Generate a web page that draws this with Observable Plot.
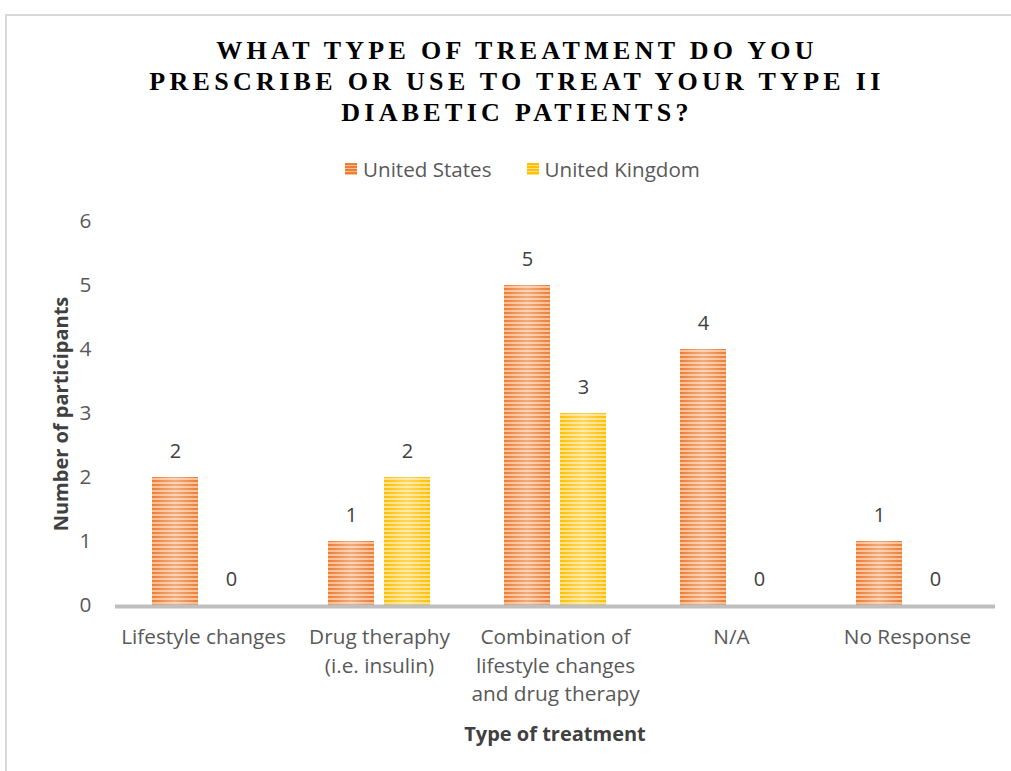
<!DOCTYPE html>
<html>
<head>
<meta charset="utf-8">
<script src="https://cdn.jsdelivr.net/npm/d3@7"></script>
<script src="https://cdn.jsdelivr.net/npm/@observablehq/plot@0.6"></script>
<style>
  html, body { margin: 0; padding: 0; background: #fff; overflow: hidden; }
  body { width: 1011px; height: 771px; position: relative; font-family: "Open Sans", "Noto Sans", sans-serif; }
  #frame { position: absolute; left: 5px; top: 14px; width: 1030px; height: 780px; border: 2px solid #d9d9d9; box-sizing: border-box; }
  #title { position: absolute; left: 0; top: 35px; width: 1034px; text-align: center;
    font-family: "Liberation Serif", serif; font-weight: bold; font-size: 26px; line-height: 31px;
    letter-spacing: 4.3px; color: #000; }
  #legend { position: absolute; top: 155px; left: 345px; display: flex; gap: 35px;
    font-size: 20.6px; color: #595959; }
  #legend span.item { display: inline-flex; align-items: center; gap: 6px; }
  #legend i { display: inline-block; width: 12px; height: 12px; }
  .axis-title { position: absolute; font-weight: bold; font-size: 20px; color: #404040; white-space: nowrap; }
  #ytitle { left: 60px; top: 414px; transform: translate(-50%, -50%) rotate(-90deg); }
  #xtitle { left: 555px; top: 733px; transform: translate(-50%, -50%); }
  #chart { position: absolute; left: 0; top: 0; }
</style>
</head>
<body>
<div id="frame"></div>
<div id="title"></div>
<div id="legend"></div>
<div id="chart"></div>
<div id="ytitle" class="axis-title">Number of participants</div>
<div id="xtitle" class="axis-title">Type of treatment</div>
<script>
const titleLines = [
  "WHAT TYPE OF TREATMENT DO YOU",
  "PRESCRIBE OR USE TO TREAT YOUR TYPE II",
  "DIABETIC PATIENTS?"
];
const treatments = [
  "Lifestyle changes",
  "Drug theraphy\n(i.e. insulin)",
  "Combination of\nlifestyle changes\nand drug therapy",
  "N/A",
  "No Response"
];
const countries = ["United States", "United Kingdom"];
const unitedStates = [2, 1, 5, 4, 1];
const unitedKingdom = [0, 2, 3, 0, 0];
const yTicks = [0, 1, 2, 3, 4, 5, 6];

// stripe fills for each series: [id, dark stripe, light stripe]
const fills = [
  ["stripe-us", "#ED7D31", "#F9BE95"],
  ["stripe-uk", "#FFC000", "#FFE083"]
];

const rows = treatments.flatMap((t, i) => [
  {treatment: t, country: countries[0], value: unitedStates[i]},
  {treatment: t, country: countries[1], value: unitedKingdom[i]}
]);

document.getElementById("title").innerHTML = titleLines.join("<br>");

const legend = document.getElementById("legend");
countries.forEach((c, i) => {
  const item = document.createElement("span");
  item.className = "item";
  const sw = document.createElement("i");
  sw.style.background = `repeating-linear-gradient(to bottom, ${fills[i][1]} 0 2px, ${fills[i][2]} 2px 3px)`;
  item.appendChild(sw);
  item.appendChild(document.createTextNode(c));
  legend.appendChild(item);
});

const chart = Plot.plot({
  width: 1011,
  height: 771,
  marginTop: 221,
  marginBottom: 166,
  marginLeft: 114,
  marginRight: 15,
  style: {fontFamily: "'Open Sans', 'Noto Sans', sans-serif", fontSize: "20.8px", color: "#595959", background: "transparent", overflow: "visible"},
  fx: {domain: treatments, padding: 0, label: null},
  x: {domain: countries, paddingInner: 0.18, paddingOuter: 0.66, axis: null},
  y: {domain: [0, 6], label: null},
  color: {type: "ordinal", domain: countries, range: fills.map(f => `url(#${f[0]})`)},
  marks: [
    Plot.axisY({ticks: yTicks, tickFormat: "d", tickSize: 0, tickPadding: 24, label: null, fill: "#595959"}),
    Plot.axisFx({anchor: "bottom", tickSize: 0, tickPadding: 19, label: null, lineHeight: 1.35, fill: "#595959"}),
    Plot.barY(rows, {fx: "treatment", x: "country", y: "value", fill: "country"}),
    Plot.barY(rows, {fx: "treatment", x: "country", y: "value", fill: "url(#sheen)"}),
    Plot.ruleY([0], {stroke: "#bfbfbf", strokeWidth: 4, dy: 1}),
    Plot.text(rows, {fx: "treatment", x: "country", y: "value", text: d => String(d.value), dy: -26, fill: "#404040", fontSize: 20})
  ]
});

const defs = d3.select(chart).insert("defs", ":first-child");
fills.forEach(([id, dark, light]) => {
  const p = defs.append("pattern").attr("id", id)
    .attr("patternUnits", "userSpaceOnUse").attr("width", 8).attr("height", 4);
  p.append("rect").attr("width", 8).attr("height", 4).attr("fill", dark);
  p.append("rect").attr("y", 2).attr("width", 8).attr("height", 2).attr("fill", light);
});
const sheen = defs.append("linearGradient").attr("id", "sheen").attr("x1", 0).attr("x2", 1).attr("y1", 0).attr("y2", 0);
sheen.append("stop").attr("offset", "0%").attr("stop-color", "#fff").attr("stop-opacity", 0);
sheen.append("stop").attr("offset", "50%").attr("stop-color", "#fff").attr("stop-opacity", 0.35);
sheen.append("stop").attr("offset", "100%").attr("stop-color", "#fff").attr("stop-opacity", 0);

document.getElementById("chart").appendChild(chart);
</script>
</body>
</html>
